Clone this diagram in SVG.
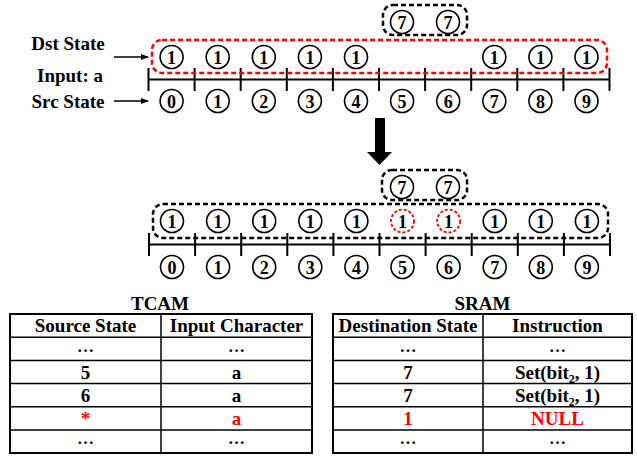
<svg xmlns="http://www.w3.org/2000/svg" width="637" height="457" viewBox="0 0 637 457">
<style>
text{font-family:"Liberation Serif","Times New Roman",serif;font-weight:bold;fill:#000}
.lbl{font-size:19px;text-anchor:middle}
.dg{font-size:18px;text-anchor:middle}
.c{fill:#fff;stroke:#000;stroke-width:1.6}
.rc{fill:#fff;stroke:#f00;stroke-width:1.8;stroke-dasharray:3 2}
.ax{stroke:#000;stroke-width:2;fill:none}
.box{fill:none;stroke:#000;stroke-width:2.5;stroke-dasharray:5 3}
.rbox{fill:none;stroke:#f00;stroke-width:2.5;stroke-dasharray:5 3}
.tb{stroke:#000;stroke-width:2;fill:none}
.tl{stroke:#000;stroke-width:1.5}
.t{font-size:19px;text-anchor:middle}
.el{font-size:17px;text-anchor:middle}
.red{fill:#f00}
</style>
<defs>
<marker id="ah" markerWidth="8" markerHeight="6" refX="7" refY="3" orient="auto" markerUnits="userSpaceOnUse">
<path d="M0,0 L8,3 L0,6 z" fill="#000"/>
</marker>
<symbol id="ticks" overflow="visible">
<path class="ax" d="M148.5,0 V23 M194.6,0 V23 M240.7,0 V23 M286.8,0 V23 M332.9,0 V23 M379,0 V23 M425.1,0 V23 M471.2,0 V23 M517.3,0 V23 M563.4,0 V23 M609.5,0 V23 M148.5,11.5 H609.5"/>
</symbol>
</defs>

<!-- labels -->
<text class="lbl" x="68" y="50">Dst State</text>
<text class="lbl" x="70" y="82">Input: a</text>
<text class="lbl" x="68" y="108">Src State</text>

<!-- top section -->
<use href="#ticks" x="0" y="68"/>
<rect class="rbox" x="152" y="40" width="455" height="33" rx="10"/>
<rect class="box" x="383" y="5" width="84" height="30" rx="10"/>

<g id="top-seven-a"><circle class="c" cx="402" cy="22" r="11.5"/><text class="dg" x="402" y="28.5">7</text></g>
<g id="top-seven-b"><circle class="c" cx="448" cy="22" r="11.5"/><text class="dg" x="448" y="28.5">7</text></g>

<g id="top-dst-0"><circle class="c" cx="171.6" cy="57" r="11.5"/><text class="dg" x="171.6" y="63.5">1</text></g>
<g id="top-dst-1"><circle class="c" cx="217.7" cy="57" r="11.5"/><text class="dg" x="217.7" y="63.5">1</text></g>
<g id="top-dst-2"><circle class="c" cx="263.8" cy="57" r="11.5"/><text class="dg" x="263.8" y="63.5">1</text></g>
<g id="top-dst-3"><circle class="c" cx="309.9" cy="57" r="11.5"/><text class="dg" x="309.9" y="63.5">1</text></g>
<g id="top-dst-4"><circle class="c" cx="356" cy="57" r="11.5"/><text class="dg" x="356" y="63.5">1</text></g>
<g id="top-dst-7"><circle class="c" cx="494.3" cy="57" r="11.5"/><text class="dg" x="494.3" y="63.5">1</text></g>
<g id="top-dst-8"><circle class="c" cx="540.4" cy="57" r="11.5"/><text class="dg" x="540.4" y="63.5">1</text></g>
<g id="top-dst-9"><circle class="c" cx="586.5" cy="57" r="11.5"/><text class="dg" x="586.5" y="63.5">1</text></g>

<g id="top-src-0"><circle class="c" cx="171.6" cy="101" r="11.5"/><text class="dg" x="171.6" y="107.5">0</text></g>
<g id="top-src-1"><circle class="c" cx="217.7" cy="101" r="11.5"/><text class="dg" x="217.7" y="107.5">1</text></g>
<g id="top-src-2"><circle class="c" cx="263.8" cy="101" r="11.5"/><text class="dg" x="263.8" y="107.5">2</text></g>
<g id="top-src-3"><circle class="c" cx="309.9" cy="101" r="11.5"/><text class="dg" x="309.9" y="107.5">3</text></g>
<g id="top-src-4"><circle class="c" cx="356" cy="101" r="11.5"/><text class="dg" x="356" y="107.5">4</text></g>
<g id="top-src-5"><circle class="c" cx="402.1" cy="101" r="11.5"/><text class="dg" x="402.1" y="107.5">5</text></g>
<g id="top-src-6"><circle class="c" cx="448.2" cy="101" r="11.5"/><text class="dg" x="448.2" y="107.5">6</text></g>
<g id="top-src-7"><circle class="c" cx="494.3" cy="101" r="11.5"/><text class="dg" x="494.3" y="107.5">7</text></g>
<g id="top-src-8"><circle class="c" cx="540.4" cy="101" r="11.5"/><text class="dg" x="540.4" y="107.5">8</text></g>
<g id="top-src-9"><circle class="c" cx="586.5" cy="101" r="11.5"/><text class="dg" x="586.5" y="107.5">9</text></g>

<!-- middle section -->
<use href="#ticks" x="0.5" y="233"/>
<rect class="box" x="153" y="204" width="455" height="34" rx="10"/>
<rect class="box" x="382" y="170" width="85" height="30" rx="10"/>

<g id="mid-seven-a"><circle class="c" cx="402" cy="187" r="11.5"/><text class="dg" x="402" y="193.5">7</text></g>
<g id="mid-seven-b"><circle class="c" cx="448" cy="187" r="11.5"/><text class="dg" x="448" y="193.5">7</text></g>

<g id="mid-dst-0"><circle class="c" cx="172" cy="221" r="11.5"/><text class="dg" x="172" y="227.5">1</text></g>
<g id="mid-dst-1"><circle class="c" cx="218.1" cy="221" r="11.5"/><text class="dg" x="218.1" y="227.5">1</text></g>
<g id="mid-dst-2"><circle class="c" cx="264.2" cy="221" r="11.5"/><text class="dg" x="264.2" y="227.5">1</text></g>
<g id="mid-dst-3"><circle class="c" cx="310.3" cy="221" r="11.5"/><text class="dg" x="310.3" y="227.5">1</text></g>
<g id="mid-dst-4"><circle class="c" cx="356.4" cy="221" r="11.5"/><text class="dg" x="356.4" y="227.5">1</text></g>
<g id="mid-dst-5"><circle class="rc" cx="402.5" cy="221" r="11.5"/><text class="dg" x="402.5" y="227.5">1</text></g>
<g id="mid-dst-6"><circle class="rc" cx="448.6" cy="221" r="11.5"/><text class="dg" x="448.6" y="227.5">1</text></g>
<g id="mid-dst-7"><circle class="c" cx="494.7" cy="221" r="11.5"/><text class="dg" x="494.7" y="227.5">1</text></g>
<g id="mid-dst-8"><circle class="c" cx="540.8" cy="221" r="11.5"/><text class="dg" x="540.8" y="227.5">1</text></g>
<g id="mid-dst-9"><circle class="c" cx="586.9" cy="221" r="11.5"/><text class="dg" x="586.9" y="227.5">1</text></g>

<g id="mid-src-0"><circle class="c" cx="172" cy="267" r="11.5"/><text class="dg" x="172" y="273.5">0</text></g>
<g id="mid-src-1"><circle class="c" cx="218.1" cy="267" r="11.5"/><text class="dg" x="218.1" y="273.5">1</text></g>
<g id="mid-src-2"><circle class="c" cx="264.2" cy="267" r="11.5"/><text class="dg" x="264.2" y="273.5">2</text></g>
<g id="mid-src-3"><circle class="c" cx="310.3" cy="267" r="11.5"/><text class="dg" x="310.3" y="273.5">3</text></g>
<g id="mid-src-4"><circle class="c" cx="356.4" cy="267" r="11.5"/><text class="dg" x="356.4" y="273.5">4</text></g>
<g id="mid-src-5"><circle class="c" cx="402.5" cy="267" r="11.5"/><text class="dg" x="402.5" y="273.5">5</text></g>
<g id="mid-src-6"><circle class="c" cx="448.6" cy="267" r="11.5"/><text class="dg" x="448.6" y="273.5">6</text></g>
<g id="mid-src-7"><circle class="c" cx="494.7" cy="267" r="11.5"/><text class="dg" x="494.7" y="273.5">7</text></g>
<g id="mid-src-8"><circle class="c" cx="540.8" cy="267" r="11.5"/><text class="dg" x="540.8" y="273.5">8</text></g>
<g id="mid-src-9"><circle class="c" cx="586.9" cy="267" r="11.5"/><text class="dg" x="586.9" y="273.5">9</text></g>

<!-- connectors -->
<g id="connectors">
<line x1="114" y1="57" x2="148" y2="57" stroke="#000" stroke-width="1.3" marker-end="url(#ah)"/>
<line x1="114" y1="101" x2="148" y2="101" stroke="#000" stroke-width="1.3" marker-end="url(#ah)"/>
<polygon points="375,118 385,118 385,152 392,152 379.5,165 367,152 375,152" fill="#000"/>
</g>

<!-- TCAM table -->
<g id="tcam">
<text class="t" x="160" y="310">TCAM</text>
<rect class="tb" x="10" y="314" width="302" height="139"/>
<path class="tl" d="M161,314 V453 M10,337.2 H312 M10,360.4 H312 M10,383.6 H312 M10,406.8 H312 M10,430 H312"/>
<text class="t" x="85.5" y="332">Source State</text>
<text class="t" x="236.5" y="332">Input Character</text>
<text class="el" x="85.5" y="351.5">…</text>
<text class="el" x="236.5" y="351.5">…</text>
<text class="t" x="85.5" y="379">5</text>
<text class="t" x="236.5" y="379">a</text>
<text class="t" x="85.5" y="402">6</text>
<text class="t" x="236.5" y="402">a</text>
<text class="t red" x="85.5" y="425">*</text>
<text class="t red" x="236.5" y="425">a</text>
<text class="el" x="85.5" y="443.5">…</text>
<text class="el" x="236.5" y="443.5">…</text>
</g>

<!-- SRAM table -->
<g id="sram">
<text class="t" x="482.5" y="310">SRAM</text>
<rect class="tb" x="333" y="314" width="299" height="139"/>
<path class="tl" d="M483,314 V453 M333,337.2 H632 M333,360.4 H632 M333,383.6 H632 M333,406.8 H632 M333,430 H632"/>
<text class="t" x="408" y="332">Destination State</text>
<text class="t" x="557.5" y="332">Instruction</text>
<text class="el" x="408" y="351.5">…</text>
<text class="el" x="557.5" y="351.5">…</text>
<text class="t" x="408" y="379">7</text>
<text class="t" x="557.5" y="379">Set(bit<tspan font-size="12" dy="4">2</tspan><tspan dy="-4">, 1)</tspan></text>
<text class="t" x="408" y="402">7</text>
<text class="t" x="557.5" y="402">Set(bit<tspan font-size="12" dy="4">2</tspan><tspan dy="-4">, 1)</tspan></text>
<text class="t red" x="408" y="425">1</text>
<text class="t red" x="557.5" y="425">NULL</text>
<text class="el" x="408" y="443.5">…</text>
<text class="el" x="557.5" y="443.5">…</text>
</g>
</svg>
